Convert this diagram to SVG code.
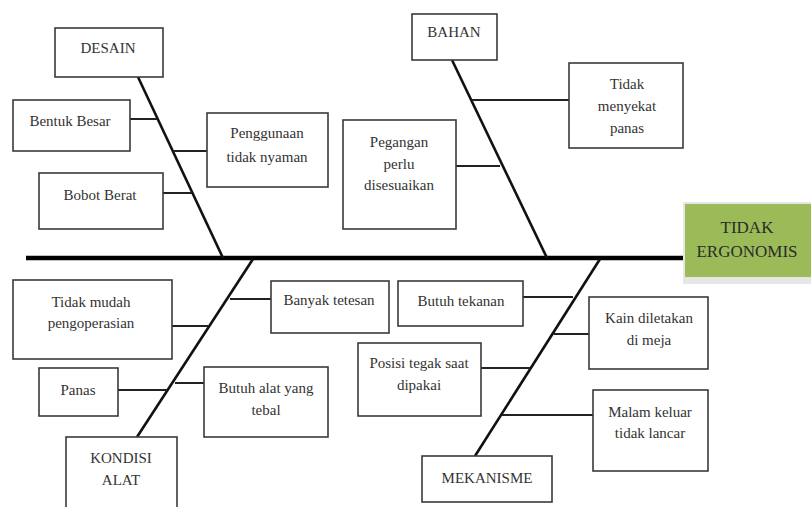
<svg xmlns="http://www.w3.org/2000/svg" width="811" height="507" viewBox="0 0 811 507" font-family="Liberation Serif, DejaVu Serif, Noto Serif, serif">
<style>
.box{fill:#fff;stroke:#3a3a3a;stroke-width:1.6}
.t{font-size:15px;fill:#333;text-anchor:middle}
.spine{stroke:#111;stroke-width:2.6;fill:none}
.rib{stroke:#222;stroke-width:2;fill:none}
</style>
<rect width="811" height="507" fill="#fff"/>
<g id="connectors">
<line x1="26" y1="258" x2="683" y2="258" stroke="#000" stroke-width="4.5"/>
<line class="spine" x1="138" y1="77" x2="223" y2="258"/>
<line class="spine" x1="452" y1="60" x2="547" y2="258"/>
<line class="spine" x1="253" y1="259" x2="137" y2="437"/>
<line class="spine" x1="600" y1="259" x2="475" y2="456"/>
<line class="rib" x1="130" y1="119" x2="157" y2="119"/>
<line class="rib" x1="173" y1="151" x2="207" y2="151"/>
<line class="rib" x1="163" y1="193" x2="192" y2="193"/>
<line class="rib" x1="472" y1="100" x2="569" y2="100"/>
<line class="rib" x1="456" y1="166" x2="500" y2="166"/>
<line class="rib" x1="172" y1="326" x2="208" y2="326"/>
<line class="rib" x1="230" y1="299" x2="271" y2="299"/>
<line class="rib" x1="118" y1="390" x2="167" y2="390"/>
<line class="rib" x1="175" y1="383" x2="204" y2="383"/>
<line class="rib" x1="523" y1="297" x2="573" y2="297"/>
<line class="rib" x1="554" y1="334" x2="589" y2="334"/>
<line class="rib" x1="481" y1="368" x2="530" y2="368"/>
<line class="rib" x1="502" y1="415" x2="593" y2="415"/>
</g>
<g id="desain"><rect class="box" x="55" y="28" width="108" height="49"/><text class="t" x="108" y="53" font-family="Liberation Serif, serif">DESAIN</text></g>
<g id="bentuk-besar"><rect class="box" x="13" y="100" width="117" height="51"/><text class="t" x="70" y="126">Bentuk Besar</text></g>
<g id="penggunaan"><rect class="box" x="207" y="113" width="121" height="74"/><text class="t" x="267" y="138">Penggunaan</text><text class="t" x="267" y="162">tidak nyaman</text></g>
<g id="bobot-berat"><rect class="box" x="39" y="173" width="124" height="56"/><text class="t" x="100" y="200">Bobot Berat</text></g>
<g id="bahan"><rect class="box" x="412" y="14" width="85" height="46"/><text class="t" x="454" y="37">BAHAN</text></g>
<g id="tidak-menyekat"><rect class="box" x="569" y="63" width="114" height="85"/><text class="t" x="627" y="89">Tidak</text><text class="t" x="627" y="111">menyekat</text><text class="t" x="627" y="133">panas</text></g>
<g id="pegangan"><rect class="box" x="343" y="120" width="113" height="109"/><text class="t" x="399" y="147">Pegangan</text><text class="t" x="399" y="169">perlu</text><text class="t" x="399" y="190">disesuaikan</text></g>
<g id="tidak-ergonomis">
<rect x="683" y="202" width="128" height="82" fill="#e6e6e6"/>
<rect x="685" y="204" width="126" height="73" fill="#9bbb59"/>
<text class="t" x="747" y="233" style="font-size:17px;fill:#2a2a2a">TIDAK</text>
<text class="t" x="747" y="257" style="font-size:17px;fill:#2a2a2a">ERGONOMIS</text>
</g>
<g id="tidak-mudah"><rect class="box" x="13" y="280" width="159" height="79"/><text class="t" x="91" y="307">Tidak mudah</text><text class="t" x="91" y="328">pengoperasian</text></g>
<g id="banyak-tetesan"><rect class="box" x="271" y="281" width="118" height="52"/><text class="t" x="329" y="305">Banyak tetesan</text></g>
<g id="panas"><rect class="box" x="39" y="368" width="79" height="48"/><text class="t" x="78" y="395">Panas</text></g>
<g id="butuh-alat"><rect class="box" x="204" y="367" width="124" height="70"/><text class="t" x="266" y="393">Butuh alat yang</text><text class="t" x="266" y="415">tebal</text></g>
<g id="kondisi-alat"><rect class="box" x="66" y="437" width="111" height="80"/><text class="t" x="121" y="463">KONDISI</text><text class="t" x="121" y="485">ALAT</text></g>
<g id="butuh-tekanan"><rect class="box" x="398" y="281" width="125" height="45"/><text class="t" x="461" y="306">Butuh tekanan</text></g>
<g id="kain-diletakan"><rect class="box" x="589" y="297" width="119" height="72"/><text class="t" x="649" y="323">Kain diletakan</text><text class="t" x="649" y="345">di meja</text></g>
<g id="posisi"><rect class="box" x="358" y="343" width="123" height="73"/><text class="t" x="419" y="368">Posisi tegak saat</text><text class="t" x="419" y="390">dipakai</text></g>
<g id="malam-keluar"><rect class="box" x="593" y="390" width="115" height="81"/><text class="t" x="650" y="417">Malam keluar</text><text class="t" x="650" y="438">tidak lancar</text></g>
<g id="mekanisme"><rect class="box" x="422" y="456" width="130" height="46"/><text class="t" x="487" y="483">MEKANISME</text></g>
</svg>
